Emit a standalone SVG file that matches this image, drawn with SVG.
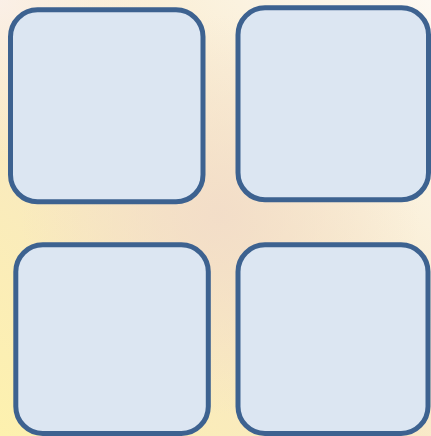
<svg xmlns="http://www.w3.org/2000/svg" width="431" height="436" viewBox="0 0 431 436">
  <defs>
    <linearGradient id="bg" x1="0" y1="1" x2="1" y2="0">
      <stop offset="0" stop-color="#fdf1ae"/>
      <stop offset="0.45" stop-color="#f8e8c4"/>
      <stop offset="1" stop-color="#fdf9f2"/>
    </linearGradient>
    <radialGradient id="glow" cx="220" cy="215" r="200" gradientUnits="userSpaceOnUse">
      <stop offset="0" stop-color="#f2dcc8" stop-opacity="0.9"/>
      <stop offset="1" stop-color="#f2dcc8" stop-opacity="0"/>
    </radialGradient>
    <radialGradient id="tl" cx="0" cy="0" r="160" gradientUnits="userSpaceOnUse">
      <stop offset="0" stop-color="#fbf0ea" stop-opacity="0.9"/>
      <stop offset="1" stop-color="#fbf0ea" stop-opacity="0"/>
    </radialGradient>
  </defs>
  <style>
    .box { fill: #dce6f2; stroke: #3d6290; stroke-width: 5; }
  </style>
  <rect width="431" height="436" fill="url(#bg)"/>
  <rect width="431" height="436" fill="url(#glow)"/>
  <rect width="431" height="436" fill="url(#tl)"/>
  <g id="node-top-left">
    <rect class="box" x="10.5" y="9.8" width="192.5" height="192" rx="27" ry="27"/>
  </g>
  <g id="node-top-right">
    <rect class="box" x="238" y="7.8" width="190.5" height="192" rx="27" ry="27"/>
  </g>
  <g id="node-bottom-left">
    <rect class="box" x="15.8" y="244.8" width="192.5" height="188.7" rx="27" ry="27"/>
  </g>
  <g id="node-bottom-right">
    <rect class="box" x="238" y="244.8" width="190" height="188.7" rx="27" ry="27"/>
  </g>
  <g id="connectors"/>
</svg>
